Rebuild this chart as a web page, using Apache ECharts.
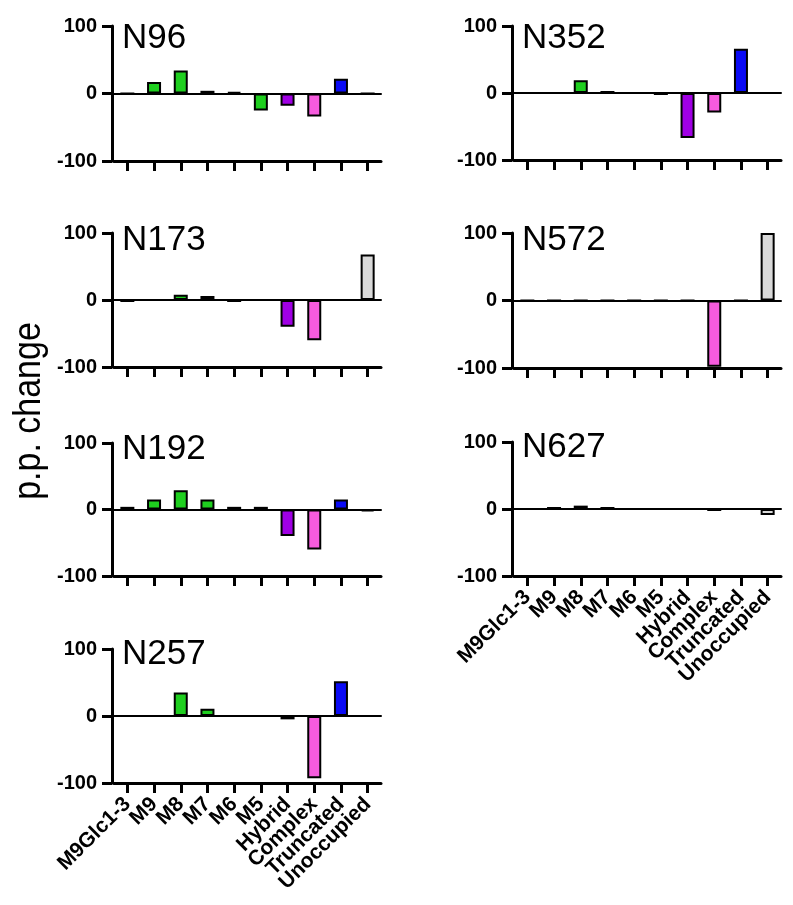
<!DOCTYPE html>
<html>
<head>
<meta charset="utf-8">
<script src="https://cdn.jsdelivr.net/npm/echarts@6/dist/echarts.min.js"></script>
<style>
  html, body { margin: 0; padding: 0; background: #ffffff; }
  #chart { width: 793px; height: 905px; }
</style>
</head>
<body>
<div id="chart"></div>
<script>
// ---- Data ----
const categories = ['M9Glc1-3', 'M9', 'M8', 'M7', 'M6', 'M5', 'Hybrid', 'Complex', 'Truncated', 'Unoccupied'];
const yTicks = [-100, 0, 100];
const panelNames = ['N96', 'N173', 'N192', 'N257', 'N352', 'N572', 'N627'];

const n96  = [0, 17, 34, 4, 2, -25, -18, -34, 22, 0];
const n173 = [-3, 0, 8, 6, -3, 0, -40, -60, 0, 68];
const n192 = [4, 15, 29, 15, 4, 4, -40, -60, 15, -3];
const n257 = [0, 0, 35, 11, 0, 0, -5, -93, 52, 0];
const n352 = [0, 0, 19, 3, 0, -3, -67, -29, 66, 0];
const n572 = [0, 0, 0, 0, 0, 0, 0, -98, 0, 100];
const n627 = [0, 3, 5, 3, 0, 0, 0, -3, 0, -9];

// ---- Style ----
const barColors = ['#ffffff', '#1fcf1f', '#1fcf1f', '#1fcf1f', '#1fcf1f', '#1fcf1f',
                   '#a000e4', '#f75bde', '#0a0af5', '#d9d9d9'];
const FONT = '"Liberation Sans", Arial, sans-serif';

const panelData = [n96, n173, n192, n257, n352, n572, n627];
// layout: [axisX, top(+100), bottom(-100), titleTop, showLabels]
const layout = [
  [112, 26, 161, 16, false],
  [112, 233, 367, 218, false],
  [112, 443, 576, 427, false],
  [112, 649, 783, 632, true],
  [512, 26, 160, 16, false],
  [512, 233, 368, 218, false],
  [512, 442, 576, 425, true]
];

const grids = [], xAxes = [], yAxes = [], series = [], titles = [];

panelNames.forEach((name, i) => {
  const [ax, top, bottom, tTop, showLabels] = layout[i];
  grids.push({ left: ax + 2, top: top, width: 267, height: bottom - top, containLabel: false });
  // bottom axis with ticks
  xAxes.push({
    type: 'category', gridIndex: i, data: categories, position: 'bottom',
    axisLine: { show: true, onZero: false, lineStyle: { color: '#000', width: 3 } },
    axisTick: { show: true, alignWithLabel: true, interval: 0, length: 10, lineStyle: { color: '#000', width: 3 } },
    axisLabel: {
      show: showLabels, interval: 0, rotate: 45, margin: 18,
      color: '#000', fontWeight: 'bold', fontSize: 21, fontFamily: FONT
    },
    splitLine: { show: false }
  });
  // zero line
  xAxes.push({
    type: 'category', gridIndex: i, data: categories, position: 'bottom',
    axisLine: { show: true, onZero: true, lineStyle: { color: '#000', width: 2 } },
    axisTick: { show: false }, axisLabel: { show: false }, splitLine: { show: false }
  });
  yAxes.push({
    type: 'value', gridIndex: i, min: yTicks[0], max: yTicks[2], interval: 100, offset: 2,
    axisLine: { show: true, lineStyle: { color: '#000', width: 3 } },
    axisTick: { show: true, length: 10, lineStyle: { color: '#000', width: 3 } },
    axisLabel: { color: '#000', fontWeight: 'bold', fontSize: 20, fontFamily: FONT, margin: 15 },
    splitLine: { show: false }
  });
  series.push({
    type: 'bar', xAxisIndex: i * 2, yAxisIndex: i, barWidth: 14,
    data: panelData[i].map((v, k) => ({
      value: v,
      itemStyle: { color: barColors[k], borderColor: '#000', borderWidth: 2 }
    })),
    animation: false
  });
  titles.push({
    text: name, left: ax + 5, top: tTop,
    textStyle: { fontSize: 35, fontWeight: 'normal', color: '#000', fontFamily: FONT }
  });
});

const chart = echarts.init(document.getElementById('chart'), null, { renderer: 'canvas' });
chart.setOption({
  backgroundColor: '#ffffff',
  animation: false,
  title: titles,
  grid: grids,
  xAxis: xAxes,
  yAxis: yAxes,
  series: series,
  graphic: [{
    type: 'text', x: 29, y: 411, rotation: Math.PI / 2, scaleY: 1.15,
    style: {
      text: 'p.p. change', fill: '#000', font: '34px ' + FONT,
      textAlign: 'center', textVerticalAlign: 'middle'
    }
  }]
});
</script>
</body>
</html>
